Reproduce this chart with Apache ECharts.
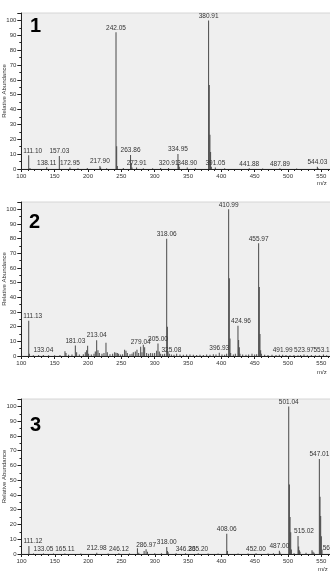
<!DOCTYPE html>
<html>
<head>
<meta charset="utf-8">
<script src="https://cdn.jsdelivr.net/npm/echarts@6/dist/echarts.min.js"></script>
<style>
html, body { margin: 0; padding: 0; background: #fff; overflow: hidden; }
#main { width: 330px; height: 572px; }
</style>
</head>
<body>
<div id="main"></div>
<script>
// spectrum 1
var mz1 = [111.10, 113.0, 138.11, 157.03, 172.95, 185.0, 199.0, 217.90, 219.0, 228.0, 242.05, 243.05, 244.05, 253.0,
  263.86, 264.86, 266.0, 272.91, 283.0, 297.0, 309.0, 320.91, 334.95, 335.95, 336.95, 348.90, 361.0,
  380.91, 381.91, 382.91, 383.91, 385.0, 391.05, 405.0, 441.88, 462.0, 487.89, 513.0, 544.03, 545.0];
var ab1 = [9.2, 0.6, 1.2, 8.8, 1.0, 0.5, 0.6, 2.0, 1.0, 0.5, 92.0, 15.3, 2.0, 0.6,
  9.5, 4.0, 1.0, 1.0, 0.5, 0.5, 0.6, 0.6, 10.1, 3.0, 1.5, 1.0, 0.5,
  100, 56.5, 23.0, 11.5, 1.5, 1.0, 0.5, 0.5, 0.4, 0.5, 0.4, 1.5, 0.6];
var lab1 = [111.10, 138.11, 157.03, 172.95, 217.90, 242.05, 263.86, 272.91, 320.91, 334.95, 348.90, 380.91, 391.05, 441.88, 487.89, 544.03];

// spectrum 2
var mz2 = [111.13, 112.1, 118, 126, 133.04, 141, 150, 158, 165.5, 167, 171, 176, 181.03, 183, 187, 193, 196, 198, 199.5, 201,
  205, 209, 211, 213.04, 215, 217, 221, 224, 227, 229, 233, 237, 240, 242, 244, 246, 249, 252, 255, 257, 259, 263, 266, 268,
  271, 273.5, 276, 279.04, 281, 283, 285, 288, 291, 294, 297, 300, 303, 305.00, 307, 309, 312, 315, 318.06, 319.06, 320.06,
  322, 325.08, 329, 333, 338, 343, 348, 353, 358, 363, 368, 373, 378, 383, 388, 392, 396.93, 401, 405, 408,
  410.99, 411.99, 412.99, 414, 418, 421, 424.96, 425.96, 426.96, 428, 432, 437, 441, 446, 450, 453,
  455.97, 456.97, 457.97, 458.97, 460, 465, 470, 476, 482, 487, 491.99, 497, 503, 509, 515, 519, 523.97, 529, 535, 541, 547, 553.12, 558];
var ab2 = [24, 1.5, 0.5, 0.6, 0.6, 0.5, 0.5, 0.7, 3.2, 2, 0.8, 1, 7.2, 2.5, 1, 1.2, 2.5, 4, 7, 1.5,
  1, 1.5, 3, 10.8, 4, 2, 1.5, 2, 9, 2.5, 1.2, 1.5, 2.5, 2.2, 2, 1.5, 1, 1.2, 4.2, 3.5, 2, 1.2, 1.5, 2.5,
  3, 4.3, 2, 6.3, 2.5, 7.7, 6, 2, 1.5, 2, 1.8, 2, 3.5, 8.6, 3, 1.5, 1.2, 1.5, 80, 20, 3,
  1.5, 1, 0.8, 1.5, 1, 0.8, 1, 1, 0.8, 0.6, 0.8, 0.6, 1, 0.8, 1.2, 1, 2.2, 1, 0.8, 1.5,
  100, 53, 12, 2, 1, 1.5, 20.7, 10.9, 6, 1.5, 1, 0.8, 1, 1.5, 1, 1.2,
  76.8, 47, 15, 4, 1.5, 0.8, 0.6, 0.8, 0.6, 0.8, 0.8, 0.6, 0.5, 0.6, 0.5, 0.6, 1, 0.5, 0.6, 0.5, 0.5, 1, 0.5];
var lab2 = [111.13, 133.04, 181.03, 213.04, 279.04, 305.00, 318.06, 325.08, 396.93, 410.99, 424.96, 455.97, 491.99, 523.97, 553.12];

// spectrum 3
var mz3 = [111.12, 118, 133.05, 148, 165.11, 189, 212.98, 230, 246.12, 262, 274.0, 276, 284.0, 286.97, 289.0, 300, 310,
  318.00, 319.0, 320.0, 332, 346.23, 365.20, 380, 395, 408.06, 409.06, 425, 440, 452.00, 470, 478, 487.00, 488.0,
  501.04, 502.04, 503.04, 504.04, 505.0, 509, 515.02, 516.0, 517.0, 518.0, 527, 536, 537.5, 539,
  547.01, 548.01, 549.01, 550.0, 551.0, 566.97];
var ab3 = [5.4, 0.3, 0.4, 0.3, 0.4, 0.3, 0.8, 0.3, 0.5, 0.3, 3.9, 0.8, 2, 3.2, 1.5, 0.5, 0.5,
  4.8, 2, 1.2, 0.5, 0.5, 0.5, 0.4, 0.4, 13.8, 2, 0.4, 0.4, 0.5, 0.4, 0.5, 2.2, 1,
  100, 47, 25, 14.7, 3, 0.5, 12.2, 5, 2.5, 1.5, 0.8, 2.5, 1.5, 0.8,
  64.4, 38.8, 25.8, 12, 3, 1];
var lab3 = [111.12, 133.05, 165.11, 212.98, 246.12, 286.97, 318.00, 346.23, 365.20, 408.06, 452.00, 487.00, 501.04, 515.02, 547.01, 566.97];

var panelNames = ['1', '2', '3'];
var xTicks = [100, 150, 200, 250, 300, 350, 400, 450, 500, 550];
var yTicks = [0, 10, 20, 30, 40, 50, 60, 70, 80, 90, 100];

var chart = echarts.init(document.getElementById('main'));
var font = 'Liberation Sans, Arial, sans-serif';
var grids = [
  { left: 21.3, right: -8, top: 13, height: 156 },
  { left: 21.3, right: -8, top: 202, height: 154 },
  { left: 21.5, right: -8, top: 399, height: 155 }
];

// shift a few labels sideways like the instrument software does
function labelShift(m) {
  if (m < 120) return 4;
  if (Math.abs(m - 515.02) < 0.01) return 6;
  if (Math.abs(m - 424.96) < 0.01) return 3;
  return 0;
}

function peaks(mz, ab, lab) {
  return mz.map(function (m, i) {
    var item = { value: [m, ab[i]] };
    if (lab.indexOf(m) >= 0) {
      item.label = { show: true, offset: [labelShift(m), 0] };
    }
    return item;
  });
}

var specs = [[mz1, ab1, lab1], [mz2, ab2, lab2], [mz3, ab3, lab3]];

var option = {
  animation: false,
  backgroundColor: '#fff',
  grid: grids.map(function (g) {
    return Object.assign({
      show: true, backgroundColor: '#efefef', borderColor: '#d6d6d6', borderWidth: 1,
      containLabel: false, outerBoundsMode: 'none'
    }, g);
  }),
  xAxis: specs.map(function (s, i) {
    return {
      type: 'value', gridIndex: i, min: 100, max: 575, interval: 50,
      axisLine: { show: true, onZero: false, lineStyle: { color: '#222', width: 1 } },
      axisTick: { show: true, length: 3, lineStyle: { color: '#222' } },
      minorTick: { show: true, splitNumber: 5, length: 2, lineStyle: { color: '#222' } },
      splitLine: { show: false },
      axisLabel: {
        fontSize: 6, color: '#333', fontFamily: font, margin: 4, hideOverlap: false,
        formatter: function (v) { return xTicks.indexOf(v) >= 0 ? String(v) : ''; }
      }
    };
  }),
  yAxis: specs.map(function (s, i) {
    return {
      type: 'value', gridIndex: i, min: 0, max: 105, interval: 10,
      name: 'Relative Abundance', nameLocation: 'middle', nameGap: 14, nameMoveOverlap: false,
      nameTextStyle: { fontSize: 6, color: '#333', fontFamily: font },
      axisLine: { show: true, lineStyle: { color: '#222', width: 1 } },
      axisTick: { show: true, length: 4, lineStyle: { color: '#222' } },
      minorTick: { show: true, splitNumber: 2, length: 2, lineStyle: { color: '#222' } },
      splitLine: { show: false },
      axisLabel: {
        fontSize: 6, color: '#333', fontFamily: font, margin: 5, hideOverlap: false,
        overflow: 'none', align: 'right',
        formatter: function (v) { return yTicks.indexOf(v) >= 0 ? String(v) : ''; }
      }
    };
  }),
  series: specs.map(function (s, i) {
    return {
      type: 'bar', xAxisIndex: i, yAxisIndex: i,
      barWidth: 1,
      itemStyle: { color: '#4a4a4a' },
      label: {
        show: false, position: 'top', distance: 1,
        fontSize: 6.5, color: '#333', fontFamily: font,
        formatter: function (p) { return p.value[0].toFixed(2); }
      },
      data: peaks(s[0], s[1], s[2])
    };
  }),
  graphic: [
    { type: 'text', left: 30, top: 16, style: { text: panelNames[0], font: 'bold 20px Liberation Sans Narrow, Liberation Sans', fill: '#000' } },
    { type: 'text', left: 29, top: 212, style: { text: panelNames[1], font: 'bold 20px Liberation Sans Narrow, Liberation Sans', fill: '#000' } },
    { type: 'text', left: 30, top: 415, style: { text: panelNames[2], font: 'bold 20px Liberation Sans Narrow, Liberation Sans', fill: '#000' } },
    { type: 'text', left: 317, top: 180, style: { text: 'm/z', font: '6px Liberation Sans', fill: '#333' } },
    { type: 'text', left: 317, top: 369, style: { text: 'm/z', font: '6px Liberation Sans', fill: '#333' } },
    { type: 'text', left: 318, top: 566, style: { text: 'm/z', font: '6px Liberation Sans', fill: '#333' } }
  ]
};

chart.setOption(option);
</script>
</body>
</html>
